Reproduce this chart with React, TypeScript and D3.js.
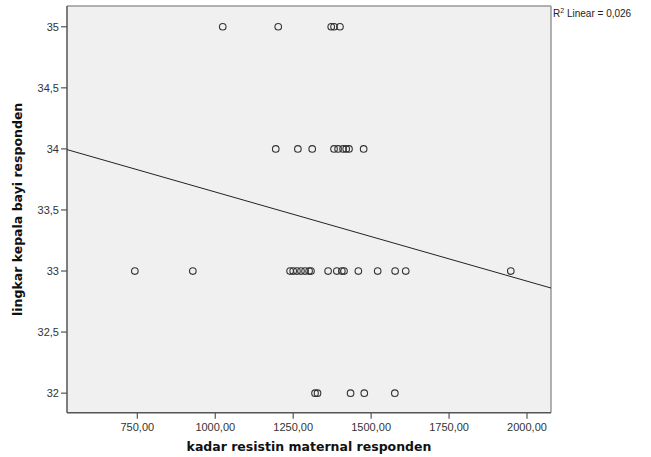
import React from "react";
import * as d3 from "d3";

const row35 = [1024, 1202, 1372, 1381, 1400];
const row34 = [1194, 1265, 1311, 1381, 1394, 1410, 1420, 1429, 1476];
const row33 = [742, 928, 1240, 1250, 1262, 1275, 1288, 1301, 1307, 1362, 1390, 1406, 1413, 1459, 1521, 1577, 1611, 1948];
const row32 = [1320, 1328, 1434, 1478, 1576];
const yValues = [35, 34, 33, 32];
const xTicks = [750, 1000, 1250, 1500, 1750, 2000];
const yTicks = [32, 32.5, 33, 33.5, 34, 34.5, 35];
const fitIntercept = 34.377;
const fitSlope = -0.00073;
const r2Text = "0,026";

export default function App() {
  const W = 651, H = 457;
  const L = 67, R = 551, T = 6, B = 412.7;
  const x = d3.scaleLinear().domain([524.4, 2077]).range([L, R]);
  const y = d3.scaleLinear().domain([31.84, 35.17]).range([B, T]);
  const rows = [row35, row34, row33, row32];
  const points: { xv: number; yv: number }[] = [];
  rows.forEach((r, i) => r.forEach((v) => points.push({ xv: v, yv: yValues[i] })));
  const fmtX = (v: number) => d3.format(".2f")(v).replace(".", ",");
  const fmtY = (v: number) => String(v).replace(".", ",");
  const x0 = x.domain()[0], x1 = x.domain()[1];
  const line = d3.line<number>().x((d) => x(d)).y((d) => y(fitIntercept + fitSlope * d));
  const font = "Liberation Sans, Arial, sans-serif";
  return (
    <svg width={W} height={H} style={{ position: "absolute", left: 0, top: 0, background: "#fff" }}>
      <rect x={L} y={T} width={R - L} height={B - T} fill="#f0f0f0" />
      <line x1={L} y1={T} x2={R} y2={T} stroke="#999" strokeWidth={1.5} />
      <line x1={R} y1={T} x2={R} y2={B} stroke="#999" strokeWidth={1.5} />
      <line x1={L} y1={T} x2={L} y2={B} stroke="#555" strokeWidth={1.5} />
      <line x1={L} y1={B} x2={R} y2={B} stroke="#555" strokeWidth={1.5} />
      {yTicks.map((t) => (
        <g key={"y" + t}>
          <line x1={L - 6} x2={L} y1={y(t)} y2={y(t)} stroke="#555" strokeWidth={1.2} />
          <text x={L - 8} y={y(t) + 4} textAnchor="end" fontSize={11} fontFamily={font} fill="#333">
            {fmtY(t)}
          </text>
        </g>
      ))}
      {xTicks.map((t) => (
        <g key={"x" + t}>
          <line x1={x(t)} x2={x(t)} y1={B} y2={B + 6} stroke="#555" strokeWidth={1.2} />
          <text x={x(t)} y={B + 18} textAnchor="middle" fontSize={11} fontFamily={font} fill="#333">
            {fmtX(t)}
          </text>
        </g>
      ))}
      <path d={line([x0, x1]) || ""} stroke="#222" strokeWidth={1} fill="none" />
      {points.map((p, i) => (
        <circle key={i} cx={x(p.xv)} cy={y(p.yv)} r={3.3} fill="none" stroke="#333" strokeWidth={1.1} />
      ))}
      <text x={(L + R) / 2} y={451} textAnchor="middle" fontSize={12.5} fontWeight="bold" fontFamily="DejaVu Sans, Verdana, sans-serif" fill="#111">
        kadar resistin maternal responden
      </text>
      <text transform={`translate(${22},${(T + B) / 2}) rotate(-90)`} textAnchor="middle" fontSize={12.5} fontWeight="bold" fontFamily="DejaVu Sans, Verdana, sans-serif" fill="#111">
        lingkar kepala bayi responden
      </text>
      <text x={553} y={17} fontSize={10} fontFamily={font} fill="#222">
        R<tspan dy={-4} fontSize={7}>2</tspan>
        <tspan dy={4}> Linear = {r2Text}</tspan>
      </text>
    </svg>
  );
}
